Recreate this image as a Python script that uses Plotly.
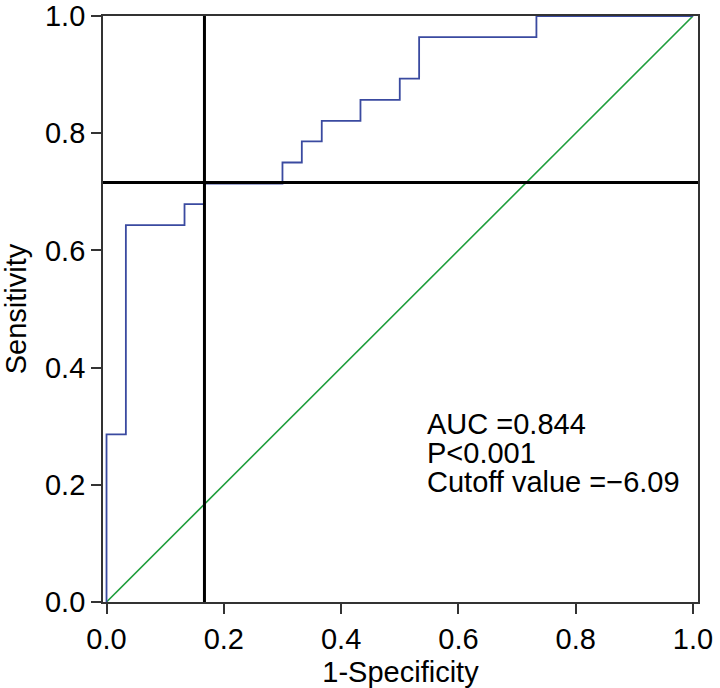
import plotly.graph_objects as go

# ROC curve corners (1-specificity, sensitivity), drawn as a step line
fpr = [0.0, 0.0, 0.033, 0.133, 0.167, 0.300, 0.333, 0.367, 0.433, 0.500, 0.533, 0.733, 1.0]
tpr = [0.0, 0.286, 0.643, 0.679, 0.714, 0.750, 0.786, 0.821, 0.857, 0.893, 0.964, 1.0, 1.0]

ref_x = [0.0, 1.0]  # chance line
ref_y = [0.0, 1.0]

cutoff_fpr = 0.167
cutoff_tpr = 0.716

stats_text = ['AUC =0.844', 'P<0.001', 'Cutoff value =\u22126.09']

font_family = 'Liberation Sans, Arial, Helvetica, sans-serif'
fsize = 29

fig = go.Figure()
fig.add_trace(go.Scatter(
  x = ref_x, y = ref_y, mode = 'lines',
  line = {'color': '#1f9e3c', 'width': 1.6},
  hoverinfo = 'skip'
))
fig.add_trace(go.Scatter(
  x = fpr, y = tpr, mode = 'lines',
  line = {'color': '#3a4aa0', 'width': 1.8, 'shape': 'hv'}
))

fig.add_vline(x = cutoff_fpr, line = {'color': 'black', 'width': 3})
fig.add_hline(y = cutoff_tpr, line = {'color': 'black', 'width': 3})

for i, t in enumerate(stats_text):
  fig.add_annotation(
    x = 0.543, y = 0.303 - i * 0.049, xref = 'x', yref = 'y',
    text = t, showarrow = False, xanchor = 'left', yanchor = 'middle',
    font = {'size': fsize, 'color': 'black', 'family': font_family}
  )

axis_style = dict(
  showline = True, linecolor = '#333', linewidth = 1.8, mirror = True,
  ticks = 'outside', ticklen = 10, tickwidth = 1.8, tickcolor = '#333',
  showgrid = False, zeroline = False, automargin = False,
  ticklabeloverflow = 'allow',
  tickfont = {'size': fsize, 'color': 'black', 'family': font_family},
  tickformat = '.1f', dtick = 0.2,
)

fig.update_xaxes(range = [-0.006, 1.0085], title = {'text': '1-Specificity', 'font': {'size': fsize, 'family': font_family, 'color': 'black'}, 'standoff': 12}, **axis_style)
fig.update_yaxes(range = [0, 1], title = {'text': 'Sensitivity', 'font': {'size': fsize, 'family': font_family, 'color': 'black'}, 'standoff': 22}, **axis_style)

fig.update_layout(
  width = 720, height = 688,
  margin = {'l': 103, 'r': 22, 't': 16, 'b': 86},
  plot_bgcolor = 'white', paper_bgcolor = 'white',
  showlegend = False,
)

# drop the page's default body margin so the figure fills the window
fig.write_html(
  'out.html',
  config = {'displayModeBar': False},
  post_script = "document.body.style.margin = '0';"
)
